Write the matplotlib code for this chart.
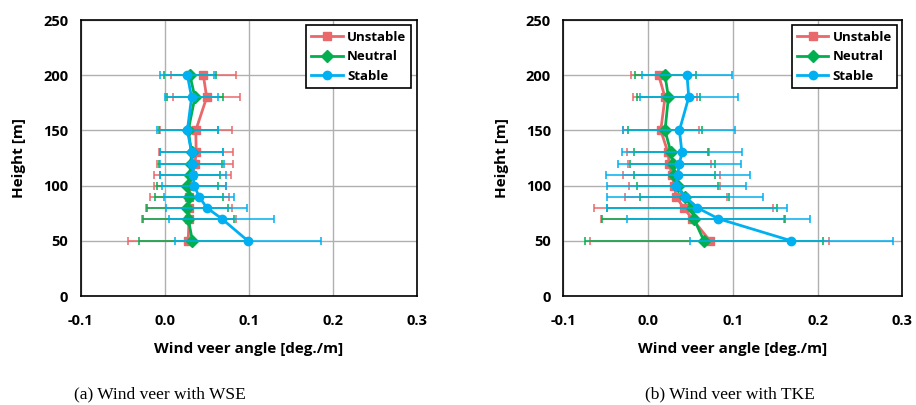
import matplotlib
matplotlib.use('Agg')
import matplotlib.pyplot as plt

# ---------------------------------------------------------------
# data

heights = [50, 70, 80, 90, 100, 110, 120, 130, 150, 180, 200]
series_names = ['Unstable', 'Neutral', 'Stable']

# (a) wind veer with WSE
wse_unstable = [0.028, 0.029, 0.029, 0.029, 0.030, 0.033, 0.036, 0.0375, 0.037, 0.050, 0.046]
wse_unstable_err = [0.072, 0.056, 0.051, 0.047, 0.043, 0.046, 0.045, 0.044, 0.043, 0.040, 0.039]
wse_neutral = [0.033, 0.028, 0.027, 0.029, 0.027, 0.030, 0.031, 0.032, 0.028, 0.036, 0.030]
wse_neutral_err = [0.064, 0.054, 0.048, 0.041, 0.036, 0.036, 0.0375, 0.0375, 0.035, 0.033, 0.031]
wse_stable = [0.099, 0.068, 0.050, 0.041, 0.035, 0.034, 0.033, 0.032, 0.027, 0.032, 0.027]
wse_stable_err = [0.087, 0.0625, 0.048, 0.042, 0.038, 0.039, 0.038, 0.037, 0.036, 0.032, 0.032]

# (b) wind veer with TKE
tke_unstable = [0.073, 0.052, 0.042, 0.033, 0.031, 0.028, 0.025, 0.0235, 0.015, 0.020, 0.0125]
tke_unstable_err = [0.141, 0.108, 0.106, 0.060, 0.054, 0.057, 0.049, 0.048, 0.045, 0.038, 0.033]
tke_neutral = [0.066, 0.054, 0.052, 0.043, 0.035, 0.031, 0.029, 0.027, 0.020, 0.024, 0.020]
tke_neutral_err = [0.140, 0.108, 0.100, 0.053, 0.048, 0.048, 0.050, 0.044, 0.044, 0.037, 0.036]
tke_stable = [0.169, 0.083, 0.058, 0.044, 0.033, 0.035, 0.037, 0.040, 0.037, 0.048, 0.046]
tke_stable_err = [0.120, 0.108, 0.106, 0.092, 0.082, 0.085, 0.073, 0.071, 0.066, 0.058, 0.053]

x_ticks = [-0.1, 0.0, 0.1, 0.2, 0.3]
y_ticks = [0, 50, 100, 150, 200, 250]
captions = ['(a) Wind veer with WSE', '(b) Wind veer with TKE']

# ---------------------------------------------------------------
# styles

colors = ['#E8686B', '#00B050', '#00B0F0']
markers = ['s', 'D', 'o']
sans = ['Open Sans', 'DejaVu Sans']
serif = ['Liberation Serif', 'DejaVu Serif']
caption_x = [0.175, 0.797]

fig = plt.figure(figsize=(9.16, 4.05), dpi=100)
ax_a = fig.add_axes([0.0881, 0.2691, 0.3668, 0.6815])
ax_b = fig.add_axes([0.6150, 0.2691, 0.3700, 0.6815])

panels = [
    (ax_a, [(wse_unstable, wse_unstable_err), (wse_neutral, wse_neutral_err),
            (wse_stable, wse_stable_err)]),
    (ax_b, [(tke_unstable, tke_unstable_err), (tke_neutral, tke_neutral_err),
            (tke_stable, tke_stable_err)]),
]

for idx, (ax, series) in enumerate(panels):
    for (vals, errs), name, c, m in zip(series, series_names, colors, markers):
        # error bars first, then the line + markers so the legend shows no caps
        ax.errorbar(vals, heights, xerr=errs, fmt='none', ecolor=c,
                    elinewidth=1.1, capsize=3, capthick=1.1)
        ax.plot(vals, heights, color=c, linewidth=2.0, marker=m,
                markersize=6 if m != 'D' else 6.5, label=name)
    ax.set_xlim(-0.1, 0.3)
    ax.set_ylim(0, 250)
    ax.set_xticks(x_ticks)
    ax.set_yticks(y_ticks)
    ax.set_xticklabels([f'{t:.1f}' for t in x_ticks], family=sans,
                       fontweight='bold', fontsize=10.5)
    ax.set_yticklabels([str(t) for t in y_ticks], family=sans,
                       fontweight='bold', fontsize=10.5)
    ax.tick_params(axis='x', length=0, pad=13)
    ax.tick_params(axis='y', length=0, pad=9)
    ax.grid(True, color='#B0B0B0', linewidth=1.0)
    ax.set_axisbelow(True)
    for sp in ax.spines.values():
        sp.set_linewidth(1.2)
        sp.set_color('black')
    ax.set_xlabel('Wind veer angle [deg./m]', family=sans, fontweight='bold',
                  fontsize=11, labelpad=10)
    ax.set_ylabel('Height [m]', family=sans, fontweight='bold', fontsize=11,
                  labelpad=12)
    leg = ax.legend(loc='upper right', prop={'family': sans, 'weight': 'bold', 'size': 9.5},
                    fancybox=False, edgecolor='black', framealpha=1,
                    handlelength=2.4, handletextpad=0.3, borderpad=0.4,
                    labelspacing=0.5, borderaxespad=0.4)
    leg.get_frame().set_linewidth(1.2)
    fig.text(caption_x[idx], 0.027, captions[idx], ha='center', va='center',
             family=serif, fontsize=12.5)

fig.savefig('out.png', dpi=100)
